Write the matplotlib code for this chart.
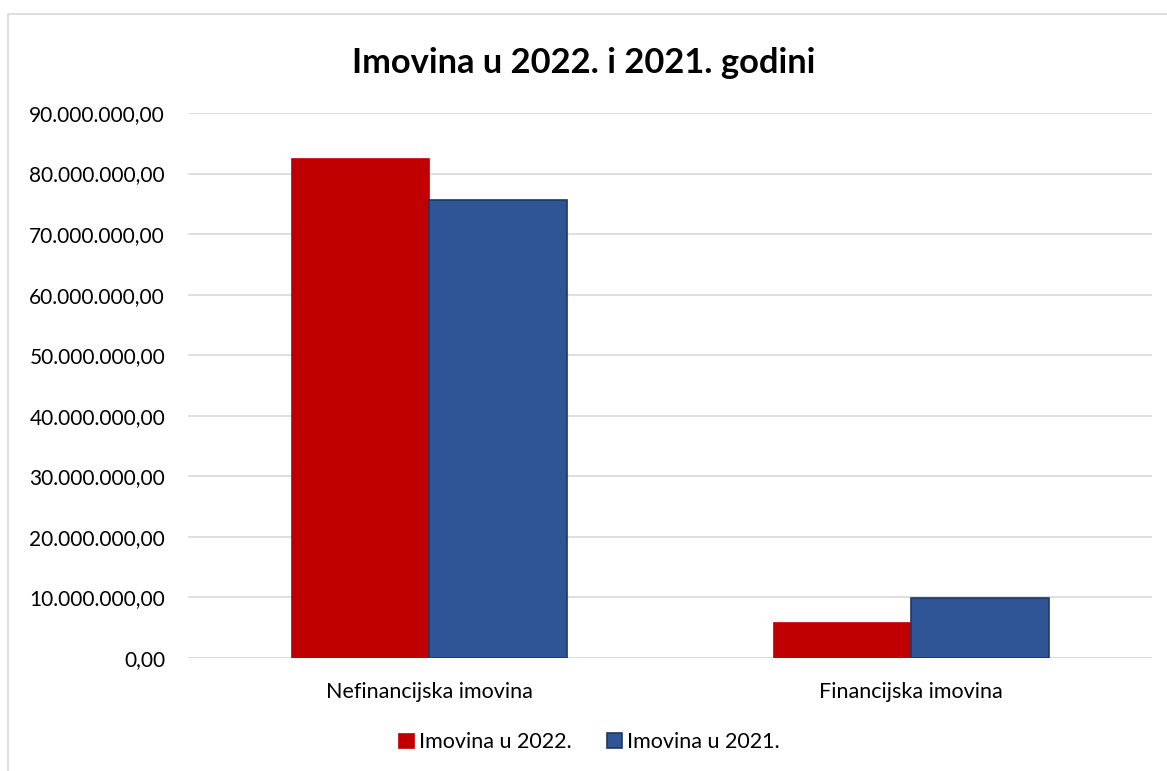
import matplotlib
matplotlib.use("Agg")
import matplotlib.pyplot as plt
from matplotlib.patches import Rectangle
from matplotlib.ticker import FuncFormatter
import numpy as np

categories = ["Nefinancijska imovina", "Financijska imovina"]
series_names = ["Imovina u 2022.", "Imovina u 2021."]
values_2022 = [82560000, 5940000]
values_2021 = [75600000, 9900000]
yticks = [0, 10e6, 20e6, 30e6, 40e6, 50e6, 60e6, 70e6, 80e6, 90e6]

plt.rcParams['font.family'] = ['Lato', 'DejaVu Sans']

fig = plt.figure(figsize=(11.67, 7.71), dpi=100)
ax = fig.add_axes([188/1167, 1-658/771, (1152-188)/1167, (658-113)/771])

x = np.arange(len(categories))
w = 0.287
ax.bar(x - w/2, values_2022, width=w, color="#C00000", edgecolor="#C00000", linewidth=0.5,
       label=series_names[0], zorder=3)
ax.bar(x + w/2, values_2021, width=w, color="#2F5597", edgecolor="#1F3864", linewidth=1.2,
       label=series_names[1], zorder=3)

ax.set_xlim(-0.5, 1.5)
ax.set_ylim(0, 90e6)
ax.set_yticks(yticks)

def fmt(v, pos):
    s = f"{int(round(v)):,}".replace(",", ".")
    return s + ",00"
ax.yaxis.set_major_formatter(FuncFormatter(fmt))
ax.set_xticks(x)
ax.set_xticklabels(categories, fontsize=15.5)
ax.tick_params(axis='y', length=0, labelsize=15, colors="#000000", pad=16.5)
ax.tick_params(axis='x', length=0, colors="#000000", pad=17)
ax.grid(axis='y', color="#D9D9D9", linewidth=1.2, zorder=0)
for s in ax.spines.values():
    s.set_visible(False)
ax.axhline(0, color="#D9D9D9", linewidth=1.2, zorder=1)

fig.text(0.5, 1-63/771, "Imovina u 2022. i 2021. godini", ha='center', va='center',
         fontsize=24.8, fontweight='bold')

leg = fig.legend(loc='center', bbox_to_anchor=(0.505, 1-742/771), ncol=2, frameon=False,
                 fontsize=15.5, handlelength=0.72, handleheight=0.72, handletextpad=0.25,
                 columnspacing=1.6)

fig.patches.append(Rectangle((8/1167, -0.1), 1.2, 1.1 - 14/771, transform=fig.transFigure,
                             fill=False, edgecolor="#D9D9D9", linewidth=1.2))

fig.savefig("out.png", dpi=100, facecolor="white")
